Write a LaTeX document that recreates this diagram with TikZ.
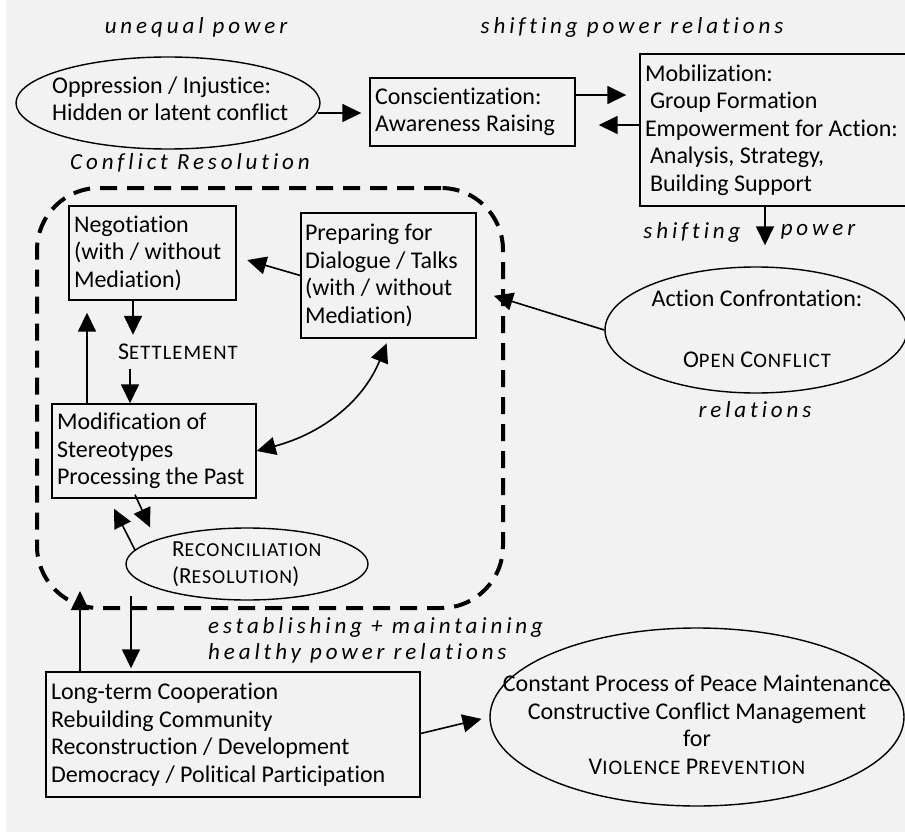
\documentclass[tikz,border=0pt]{standalone}
\usepackage{fontspec}
\setmainfont{Carlito}[Ligatures={NoCommon}]
\newfontfamily\spit{Carlito}[LetterSpace=17,Ligatures={NoCommon}]
\newfontfamily\scfont{Carlito}[LetterSpace=5,Ligatures={NoCommon}]
\usetikzlibrary{arrows.meta,shapes.geometric,calc}
\definecolor{bgc}{HTML}{F2F2F2}
\newcommand\SC[2]{#1\scalebox{0.86}{\scfont #2}}
\begin{document}
\begin{tikzpicture}[x=1pt,y=-1pt,
  every node/.style={font=\fontsize{24}{27.5}\selectfont},
  box/.style={draw, line width=1.4pt, inner sep=0pt, align=flush left},
  ell/.style={draw, ellipse, line width=1.4pt, inner sep=0pt},
  txt/.style={inner sep=0pt},
  arr/.style={line width=1.6pt, -{Triangle[length=19pt,width=18pt]}},
  darr/.style={line width=1.6pt, {Triangle[length=19pt,width=18pt]}-{Triangle[length=19pt,width=18pt]}},
  lab/.style={inner sep=0pt, font=\spit\itshape\fontsize{23}{26}\selectfont}]
\path[use as bounding box, fill=white] (0,0) rectangle (905,832);
\fill[bgc] (6,0) rectangle (905,832);
\clip (0,0) rectangle (905,832);

% labels
\node[lab] (l1) at (196,27) {unequal power};
\node[lab] (l2) at (632,27) {shifting power relations};
\node[lab] (l3) at (190,163) {Conflict Resolution};
\node[lab] (l4) at (692,232) {shifting};
\node[lab] (l5) at (818,232) {power};
\node[lab] (l6) at (755,410) {relations};
\node[lab, anchor=west, align=flush left] (l7) at (208,640) {establishing + maintaining\\healthy power relations};

% dashed region
\node[draw, dashed, dash pattern=on 17pt off 10pt, line width=4pt, rounded corners=62pt,
      minimum width=466pt, minimum height=420pt, inner sep=0pt] (crbox) at (270,398) {};

% nodes
\node[ell, minimum width=304pt, minimum height=92pt] (opp) at (168,103) {};
\node[txt, anchor=west, align=flush left] (opptext) at (52,99)
  {Oppression / Injustice:\\Hidden or latent conflict};
\node[box, minimum width=205pt, minimum height=68pt, text width=195pt] (consc) at (472.5,112)
  {Conscientization:\\Awareness Raising};
\node[box, minimum width=290pt, minimum height=152pt, text width=280pt] (mob) at (785,130)
  {Mobilization:\\\hspace*{5pt}Group Formation\\Empowerment for Action:\\\hspace*{5pt}Analysis, Strategy,\\\hspace*{5pt}Building Support};
\node[ell, minimum width=302pt, minimum height=126pt] (act) at (756,330) {};
\node[txt, align=flush center] (acttext) at (757,329)
  {Action Confrontation:\\[34pt]\SC{O}{PEN} \SC{C}{ONFLICT}};
\node[box, minimum width=167pt, minimum height=94pt, text width=157pt] (neg) at (152.5,253)
  {Negotiation\\(with / without\\Mediation)};
\node[box, minimum width=175pt, minimum height=125pt, text width=167pt] (prep) at (388.5,275.5)
  {Preparing for\\Dialogue / Talks\\(with / without\\Mediation)};
\node[inner sep=0pt, minimum height=34pt, font=\fontsize{24}{27}\selectfont] (settle) at (178,352)
  {\SC{S}{ETTLEMENT}};
\node[box, minimum width=204pt, minimum height=94pt, text width=194pt] (mod) at (154,451)
  {Modification of\\Stereotypes\\Processing the Past};
\node[ell, minimum width=242pt, minimum height=72pt] (recon) at (247,564) {};
\node[txt, anchor=west, align=flush left, font=\fontsize{23}{27}\selectfont] (recontext) at (172,564)
  {\SC{R}{ECONCILIATION}\\(\SC{R}{ESOLUTION})};
\node[box, minimum width=374pt, minimum height=125pt, text width=364pt] (bot) at (233,734.5)
  {Long-term Cooperation\\Rebuilding Community\\Reconstruction / Development\\Democracy / Political Participation};
\node[ell, minimum width=414pt, minimum height=178pt] (cons) at (697,717) {};
\node[txt, align=flush center] (constext) at (697,725)
  {Constant Process of Peace Maintenance\\Constructive Conflict Management\\for\\\SC{V}{IOLENCE} \SC{P}{REVENTION}};

% connectors
\draw[arr, shorten >=8pt] ($(opp.east)+(-3,10)$) -- ($(consc.west)+(0,1)$);
\draw[arr, shorten >=13pt] ($(consc.east)+(0,-17)$) -- ($(mob.west)+(0,-35)$);
\draw[arr, shorten >=23pt] ($(mob.west)+(0,-5)$) -- ($(consc.east)+(0,13)$);
\draw[arr, shorten >=21pt] ($(mob.south)+(-20,0)$) -- ($(act.north)+(9,0)$);
\draw[arr, shorten >=18pt] (act.west) -- ($(prep.east)+(0,15)$);
\draw[arr, shorten >=11pt] (prep.west) -- ($(neg.east)+(0,4)$);
\draw[arr] ($(neg.south)+(-19.5,0)$) -- ($(settle.north)+(-45,0)$);
\draw[arr] ($(settle.south)+(-48,0)$) -- ($(mod.north)+(-24,0)$);
\draw[arr, shorten >=12pt] ($(mod.north)+(-67,0)$) -- ($(neg.south)+(-65.5,0)$);
\draw[darr, shorten >=5pt] (mod.east) to[out=15,in=-112] (prep.south);
\draw[arr] ($(mod.south)+(-19,-4)$) -- ($(recon.north)+(-97,0)$);
\draw[arr] ($(recon.center)+(-112,-14)$) -- ($(mod.south)+(-40,10)$);
\draw[arr] ($(bot.north)+(-153,0)$) -- ($(crbox.south)+(-190,-19)$);
\draw[arr, shorten >=3pt] ($(crbox.south)+(-139,-14)$) -- ($(bot.north)+(-102,0)$);
\draw[arr, shorten >=8pt] ($(bot.east)+(0,-1)$) -- (cons.west);
\end{tikzpicture}
\end{document}
